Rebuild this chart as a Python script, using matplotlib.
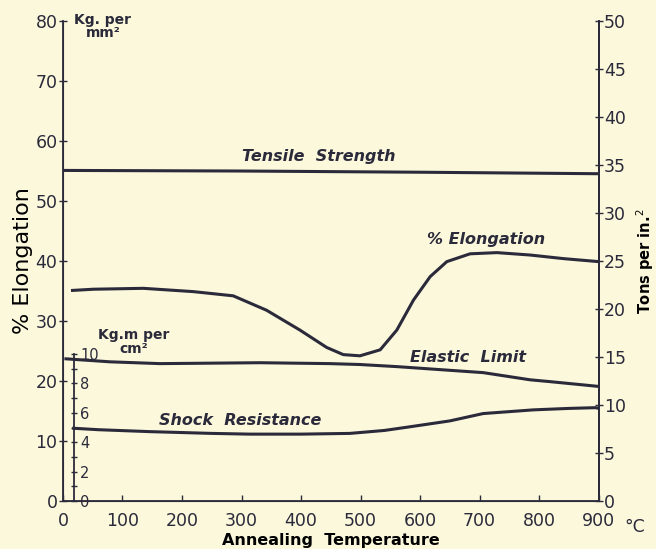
import matplotlib
matplotlib.use("Agg")
import matplotlib.pyplot as plt
from matplotlib.ticker import MultipleLocator

# annealing temperature (°C) and values
tensile_t = [0, 300, 600, 900]
tensile_v = [55.1, 55.0, 54.8, 54.55]          # kg per mm²

elong_t = [16, 51, 135, 219, 286, 342, 398, 443, 471, 499, 533, 561,
           589, 617, 645, 684, 729, 785, 841, 900]
elong_v = [35.1, 35.3, 35.45, 34.9, 34.2, 31.8, 28.5, 25.6, 24.4, 24.2, 25.2, 28.5,
           33.5, 37.4, 39.9, 41.2, 41.4, 41.0, 40.4, 39.9]   # % elongation

elastic_t = [5, 79, 163, 331, 449, 499, 561, 706, 785, 818, 900]
elastic_v = [23.7, 23.2, 22.9, 23.05, 22.9, 22.75, 22.4, 21.4, 20.2, 19.9, 19.1]

shock_t = [18, 60, 146, 250, 314, 400, 482, 540, 583, 650, 706, 790, 850, 895, 900]
shock_v = [4.95, 4.85, 4.72, 4.6, 4.55, 4.55, 4.6, 4.8, 5.05, 5.45, 5.95, 6.2, 6.3, 6.35, 6.3]  # kg.m per cm²

x_ticks = [0, 100, 200, 300, 400, 500, 600, 700, 800, 900]
left_ticks = [0, 10, 20, 30, 40, 50, 60, 70, 80]
right_ticks = [0, 5, 10, 15, 20, 25, 30, 35, 40, 45, 50]
shock_ticks = [0, 2, 4, 6, 8, 10]

SHOCK_SCALE = 2.45      # 10 kg.m/cm² sits at ~24.5 on the left scale
SHOCK_X = 18            # where the small shock axis stands

PAPER = "#fbf8dc"
INK = "#2b2a3a"

plt.rcParams["font.family"] = ["DejaVu Sans"]
plt.rcParams["text.color"] = INK
plt.rcParams["axes.edgecolor"] = INK
plt.rcParams["xtick.color"] = INK
plt.rcParams["ytick.color"] = INK

fig = plt.figure(figsize=(6.56, 5.49), dpi=100, facecolor=PAPER)
ax = fig.add_axes([0.096, 0.0874, 0.8165, 0.8743], facecolor=PAPER)

lw = 2.2
ax.plot(tensile_t, tensile_v, color=INK, lw=lw)
ax.plot(elong_t, elong_v, color=INK, lw=lw)
ax.plot(elastic_t, elastic_v, color=INK, lw=lw)
ax.plot(shock_t, [s * SHOCK_SCALE for s in shock_v], color=INK, lw=lw)

ax.set_xlim(0, 900)
ax.set_ylim(0, 80)
ax.spines["top"].set_visible(False)
for side in ("left", "bottom", "right"):
    ax.spines[side].set_linewidth(1.3)

ax.set_xticks(x_ticks)
ax.set_yticks(left_ticks)
ax.tick_params(axis="x", direction="in", length=4, width=1, labelsize=12.5, pad=8)
ax.tick_params(axis="y", direction="inout", length=6, width=1, labelsize=12.5, pad=1)
ax.set_xlabel("Annealing  Temperature", fontsize=11.5, fontweight="bold", labelpad=2)
ax.set_ylabel("% Elongation", fontsize=16, labelpad=2)

# right-hand scale: tons per square inch
ax_r = ax.twinx()
ax_r.set_ylim(0, 50)
ax_r.set_yticks(right_ticks)
ax_r.spines["top"].set_visible(False)
ax_r.spines["right"].set_linewidth(1.3)
ax_r.tick_params(axis="y", direction="inout", length=6, width=1, labelsize=12.5, pad=1)
ax_r.set_ylabel("Tons per in.$^2$", fontsize=10.5, fontweight="bold", labelpad=6)

# small inner scale for shock resistance, 0-10 kg.m per cm²
ins = ax.inset_axes([SHOCK_X, 0, 3, 10 * SHOCK_SCALE], transform=ax.transData)
ins.patch.set_visible(False)
ins.set_ylim(0, 10)
ins.set_xticks([])
for side in ("top", "bottom", "right"):
    ins.spines[side].set_visible(False)
ins.spines["left"].set_linewidth(1.3)
ins.set_yticks(shock_ticks)
ins.yaxis.set_minor_locator(MultipleLocator(1))
ins.tick_params(axis="y", which="both", direction="inout", length=5, width=1,
                left=True, right=False, labelleft=False, labelright=True,
                labelsize=10.5, pad=1)

# curve names and unit notes
ital = dict(fontsize=11.5, style="italic", fontweight="bold", color=INK)
ax.text(300, 56.2, "Tensile  Strength", ha="left", va="bottom", **ital)
ax.text(612, 42.4, "% Elongation", ha="left", va="bottom", **ital)
ax.text(680, 22.7, "Elastic  Limit", ha="center", va="bottom", **ital)
ax.text(297, 12.1, "Shock  Resistance", ha="center", va="bottom", **ital)

ax.text(67, 81.4, "Kg. per\nmm²", ha="center", va="top", fontsize=10,
        fontweight="bold", linespacing=0.95, clip_on=False)
ax.text(118, 26.5, "Kg.m per\ncm²", ha="center", va="center", fontsize=10,
        fontweight="bold", linespacing=0.95)
ax.text(943, -2.8, "°C", ha="left", va="top", fontsize=12.5, clip_on=False)

fig.savefig("out.png", dpi=100, facecolor=PAPER)
